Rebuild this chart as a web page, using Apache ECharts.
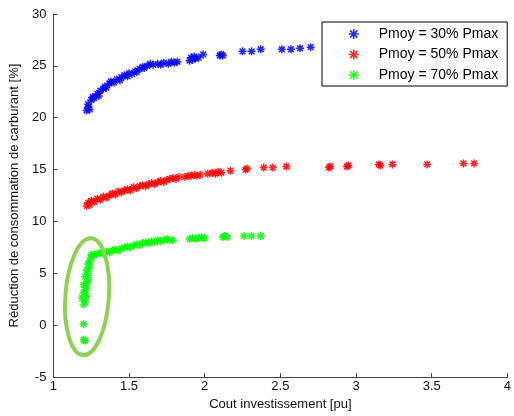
<!DOCTYPE html>
<html>
<head>
<meta charset="utf-8">
<script src="https://cdn.jsdelivr.net/npm/echarts@6/dist/echarts.min.js"></script>
<style>
html,body{margin:0;padding:0;background:#fff;}
#chart{width:514px;height:416px;}
</style>
</head>
<body>
<div id="chart"></div>
<script>
const seriesNames = ['Pmoy = 30% Pmax', 'Pmoy = 50% Pmax', 'Pmoy = 70% Pmax'];
const seriesColors = ['#0000ff', '#ff0000', '#00ff00'];
const xTicks = [1, 1.5, 2, 2.5, 3, 3.5, 4];
const yTicks = [-5, 0, 5, 10, 15, 20, 25, 30];
const xAxisName = 'Cout investissement [pu]';
const yAxisName = 'Réduction de consommation de carburant [%]';

const blue30 = [[1.22,20.7],[1.23,21.0],[1.24,20.8],[1.23,21.3],[1.25,21.7],[1.26,22.0],[1.27,21.9],[1.29,22.3],[1.30,22.1],[1.31,22.6],[1.33,22.8],[1.34,23.0],[1.35,22.9],[1.37,23.3],[1.38,23.5],[1.40,23.4],[1.42,23.7],[1.44,23.6],[1.45,23.9],[1.47,24.1],[1.49,24.0],[1.50,24.3],[1.52,24.2],[1.54,24.5],[1.55,24.4],[1.57,24.7],[1.59,24.9],[1.60,24.8],[1.62,25.0],[1.64,25.2],[1.66,25.1],[1.69,25.2],[1.71,25.1],[1.73,25.3],[1.76,25.2],[1.78,25.4],[1.80,25.3],[1.82,25.4],[1.90,25.5],[1.91,25.8],[1.92,25.6],[1.93,25.9],[1.94,25.7],[1.96,25.8],[1.99,26.1],[2.10,26.0],[2.11,26.1],[2.12,26.0],[2.25,26.4],[2.31,26.4],[2.37,26.6],[2.51,26.6],[2.57,26.6],[2.63,26.7],[2.70,26.8]];

const red50 = [[1.22,11.5],[1.23,11.8],[1.24,11.6],[1.25,12.0],[1.27,11.9],[1.29,12.2],[1.31,12.1],[1.33,12.4],[1.35,12.3],[1.37,12.5],[1.39,12.7],[1.41,12.6],[1.43,12.9],[1.45,12.8],[1.47,13.0],[1.49,13.1],[1.51,13.0],[1.53,13.3],[1.55,13.2],[1.57,13.4],[1.59,13.5],[1.61,13.4],[1.63,13.6],[1.65,13.7],[1.67,13.6],[1.69,13.8],[1.71,13.9],[1.73,13.8],[1.75,14.0],[1.77,14.1],[1.79,14.2],[1.81,14.1],[1.83,14.3],[1.87,14.3],[1.89,14.4],[1.91,14.4],[1.93,14.5],[1.95,14.4],[1.97,14.5],[2.02,14.6],[2.05,14.7],[2.07,14.6],[2.09,14.8],[2.11,14.7],[2.17,14.9],[2.27,15.0],[2.28,15.1],[2.39,15.2],[2.45,15.2],[2.54,15.3],[2.82,15.2],[2.83,15.3],[2.94,15.3],[2.95,15.4],[3.15,15.5],[3.16,15.4],[3.24,15.5],[3.47,15.5],[3.71,15.6],[3.78,15.6]];

const green70 = [[1.20,-1.4],[1.21,-1.5],[1.20,0.1],[1.20,2.0],[1.21,2.3],[1.19,2.6],[1.22,2.8],[1.20,3.1],[1.21,3.4],[1.22,3.6],[1.20,3.9],[1.22,4.1],[1.23,4.4],[1.21,4.7],[1.23,5.0],[1.22,5.3],[1.24,5.6],[1.23,5.9],[1.24,6.2],[1.25,6.5],[1.25,6.8],[1.27,6.8],[1.29,6.9],[1.31,7.0],[1.33,6.9],[1.35,7.1],[1.37,7.0],[1.39,7.2],[1.41,7.3],[1.43,7.2],[1.45,7.4],[1.47,7.5],[1.49,7.6],[1.51,7.5],[1.53,7.7],[1.55,7.8],[1.57,7.7],[1.59,7.9],[1.61,8.0],[1.63,7.9],[1.65,8.1],[1.67,8.0],[1.69,8.2],[1.71,8.1],[1.73,8.2],[1.75,8.3],[1.77,8.2],[1.79,8.2],[1.90,8.3],[1.92,8.4],[1.94,8.3],[1.96,8.4],[1.98,8.5],[2.00,8.4],[2.12,8.5],[2.13,8.6],[2.15,8.5],[2.26,8.6],[2.31,8.6],[2.37,8.6]];

const allData = [blue30, red50, green70];
// annotation ellipse (data coordinates of centre, radii)
const ellipseCentre = [1.223, 2.75];

const star = 'path://M0,-5L0,5M-5,0L5,0M-3.6,-3.6L3.6,3.6M-3.6,3.6L3.6,-3.6';

const chart = echarts.init(document.getElementById('chart'));
const font = 'Liberation Sans, Arial, sans-serif';

chart.setOption({
  animation: false,
  backgroundColor: '#fff',
  grid: {left: 51, right: 4, top: 14, bottom: 36, containLabel: false},
  xAxis: {
    type: 'value', min: xTicks[0], max: xTicks[xTicks.length-1], interval: 0.5,
    name: xAxisName, nameLocation: 'middle', nameGap: 20,
    nameTextStyle: {fontFamily: font, fontSize: 13, color: '#111'},
    axisLine: {show: true, onZero: false, lineStyle: {color: '#444', width: 1}},
    axisTick: {show: true, inside: true, length: 4, lineStyle: {color: '#444'}},
    axisLabel: {fontFamily: font, fontSize: 13, color: '#111', margin: 3,
      formatter: v => String(v)},
    splitLine: {show: false}
  },
  yAxis: {
    type: 'value', min: yTicks[0], max: yTicks[yTicks.length-1], interval: 5,
    name: yAxisName, nameLocation: 'middle', nameGap: 27, nameRotate: 90,
    nameTextStyle: {fontFamily: font, fontSize: 13, color: '#111'},
    axisLine: {show: true, onZero: false, lineStyle: {color: '#444', width: 1}},
    axisTick: {show: true, inside: true, length: 4, lineStyle: {color: '#444'}},
    axisLabel: {fontFamily: font, fontSize: 13, color: '#111', margin: 7},
    splitLine: {show: false}
  },
  legend: {
    orient: 'vertical', left: 322, top: 22,
    padding: [5, 9, 4, 26],
    itemWidth: 10, itemHeight: 10, itemGap: 6.5,
    backgroundColor: '#fff', borderColor: '#000', borderWidth: 1, borderRadius: 0,
    textStyle: {fontFamily: font, fontSize: 14, color: '#000', padding: [0, 0, 0, 15]},
    data: seriesNames.map((n, i) => ({name: n, icon: star, itemStyle: {color: seriesColors[i], borderColor: seriesColors[i], borderWidth: 1.5}}))
  },
  series: allData.map((d, i) => ({
    type: 'scatter', name: seriesNames[i], data: d,
    symbol: star, symbolSize: 8,
    itemStyle: {color: seriesColors[i], borderColor: seriesColors[i], borderWidth: 1.5, opacity: 0.85}
  }))
});

const c = chart.convertToPixel({gridIndex: 0}, ellipseCentre);
const pTop = chart.convertToPixel({gridIndex: 0}, [ellipseCentre[0], ellipseCentre[1] + 5.64]);
const pRight = chart.convertToPixel({gridIndex: 0}, [ellipseCentre[0] + 0.144, ellipseCentre[1]]);
chart.setOption({
  graphic: [{
    type: 'ellipse', x: c[0], y: c[1], rotation: -0.07, z: 100,
    shape: {cx: 0, cy: 0, rx: pRight[0] - c[0], ry: c[1] - pTop[1]},
    style: {fill: 'none', stroke: '#92cf55', lineWidth: 4}
  }]
});
</script>
</body>
</html>
